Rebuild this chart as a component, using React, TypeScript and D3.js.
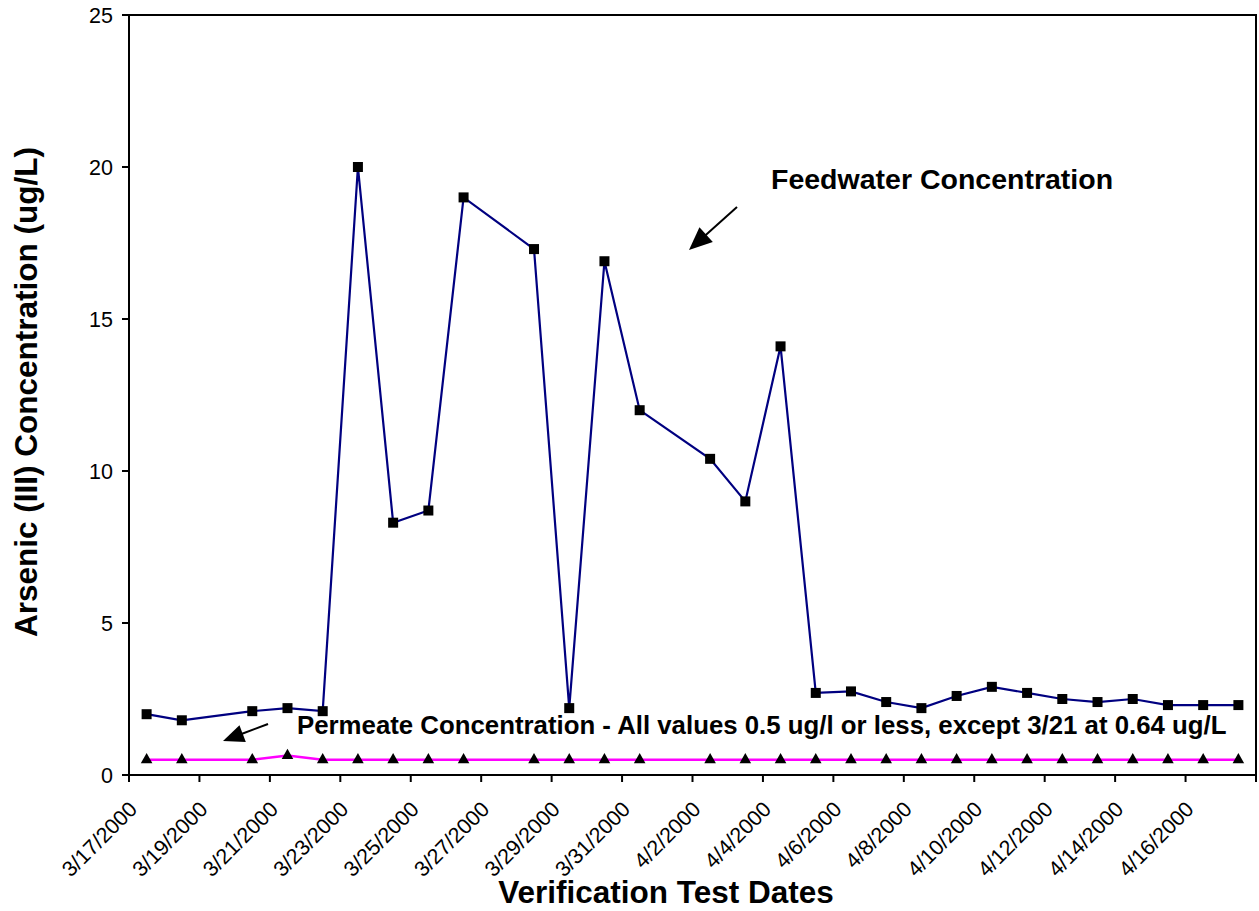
import React, { useEffect, useRef } from "react";
import * as d3 from "d3";

// sample dates (UTC) and arsenic(III) readings in ug/L
const sampleDates = [
  "2000-03-17", "2000-03-18", "2000-03-20", "2000-03-21", "2000-03-22",
  "2000-03-23", "2000-03-24", "2000-03-25", "2000-03-26", "2000-03-28",
  "2000-03-29", "2000-03-30", "2000-03-31", "2000-04-02", "2000-04-03",
  "2000-04-04", "2000-04-05", "2000-04-06", "2000-04-07", "2000-04-08",
  "2000-04-09", "2000-04-10", "2000-04-11", "2000-04-12", "2000-04-13",
  "2000-04-14", "2000-04-15", "2000-04-16", "2000-04-17",
];

const feedwater = [
  2.0, 1.8, 2.1, 2.2, 2.1, 20.0, 8.3, 8.7, 19.0, 17.3, 2.2, 16.9, 12.0, 10.4,
  9.0, 14.1, 2.7, 2.75, 2.4, 2.2, 2.6, 2.9, 2.7, 2.5, 2.4, 2.5, 2.3, 2.3, 2.3,
];

const permeate = [
  0.5, 0.5, 0.5, 0.64, 0.5, 0.5, 0.5, 0.5, 0.5, 0.5, 0.5, 0.5, 0.5, 0.5, 0.5,
  0.5, 0.5, 0.5, 0.5, 0.5, 0.5, 0.5, 0.5, 0.5, 0.5, 0.5, 0.5, 0.5, 0.5,
];

const yTicks = [0, 5, 10, 15, 20, 25];
const axisStart = "2000-03-17";
const axisEnd = "2000-04-18";

const FONT = "Arial, 'Liberation Sans', Helvetica, sans-serif";

const App: React.FC = () => {
  const svgRef = useRef<SVGSVGElement>(null);
  const width = 1259;
  const height = 911;

  useEffect(() => {
    if (!svgRef.current) return;
    const svg = d3.select(svgRef.current);
    svg.selectAll("*").remove();

    const left = 129;
    const right = 1256;
    const top = 15;
    const bottom = 775;

    const parse = d3.utcParse("%Y-%m-%d");
    const x = d3
      .scaleUtc()
      .domain([parse(axisStart)!, parse(axisEnd)!])
      .range([left, right]);
    const y = d3.scaleLinear().domain([0, 25]).range([bottom, top]);

    // points sit in the middle of their day slot
    const px = (s: string) => x(d3.utcHour.offset(parse(s)!, 12));

    // plot frame (top + right)
    svg
      .append("path")
      .attr("d", `M${left},${top}H${right}V${bottom + 7}`)
      .attr("fill", "none")
      .attr("stroke", "#000")
      .attr("stroke-width", 2);

    // y axis
    const yAxis = svg.append("g").attr("transform", `translate(${left},0)`);
    yAxis
      .append("line")
      .attr("x1", 0)
      .attr("x2", 0)
      .attr("y1", top)
      .attr("y2", bottom + 7)
      .attr("stroke", "#000")
      .attr("stroke-width", 2);
    yTicks.forEach((t) => {
      yAxis
        .append("line")
        .attr("x1", -7)
        .attr("x2", 0)
        .attr("y1", y(t))
        .attr("y2", y(t))
        .attr("stroke", "#000")
        .attr("stroke-width", 2);
      yAxis
        .append("text")
        .attr("x", -16)
        .attr("y", y(t))
        .attr("dy", "0.36em")
        .attr("text-anchor", "end")
        .style("font-family", FONT)
        .style("font-size", "21.5px")
        .text(t);
    });

    // x axis: a tick every 2 days, label on all but the last
    const xTicks = d3.utcDay.range(
      parse(axisStart)!,
      d3.utcDay.offset(parse(axisEnd)!, 1),
      2
    );
    const fmt = (d: Date) =>
      `${d.getUTCMonth() + 1}/${d.getUTCDate()}/${d.getUTCFullYear()}`;
    const xAxis = svg.append("g");
    xAxis
      .append("line")
      .attr("x1", left - 7)
      .attr("x2", right)
      .attr("y1", bottom)
      .attr("y2", bottom)
      .attr("stroke", "#000")
      .attr("stroke-width", 2);
    xTicks.forEach((d, i) => {
      const tx = x(d);
      xAxis
        .append("line")
        .attr("x1", tx)
        .attr("x2", tx)
        .attr("y1", bottom)
        .attr("y2", bottom + 7)
        .attr("stroke", "#000")
        .attr("stroke-width", 2);
      if (i < xTicks.length - 1) {
        xAxis
          .append("text")
          .attr("transform", `translate(${tx + 4},${bottom + 30}) rotate(-45)`)
          .attr("dy", "0.36em")
          .attr("text-anchor", "end")
          .style("font-family", FONT)
          .style("font-size", "21.5px")
          .text(fmt(d));
      }
    });

    // series lines
    const line = d3
      .line<number>()
      .x((_, i) => px(sampleDates[i]))
      .y((v) => y(v));

    svg
      .append("path")
      .attr("d", line(permeate))
      .attr("fill", "none")
      .attr("stroke", "#ff00ff")
      .attr("stroke-width", 2.5);

    svg
      .append("path")
      .attr("d", line(feedwater))
      .attr("fill", "none")
      .attr("stroke", "#000080")
      .attr("stroke-width", 2.2);

    // markers
    const sq = 10;
    svg
      .append("g")
      .selectAll("rect")
      .data(feedwater)
      .enter()
      .append("rect")
      .attr("x", (_, i) => px(sampleDates[i]) - sq / 2)
      .attr("y", (v) => y(v) - sq / 2)
      .attr("width", sq)
      .attr("height", sq)
      .attr("fill", "#000");

    const tri = d3.symbol().type(d3.symbolTriangle).size(58);
    svg
      .append("g")
      .selectAll("path")
      .data(permeate)
      .enter()
      .append("path")
      .attr("d", tri)
      .attr("transform", (v, i) => `translate(${px(sampleDates[i])},${y(v)})`)
      .attr("fill", "#000");

    // annotations
    const arrow = (
      x1: number,
      y1: number,
      x2: number,
      y2: number,
      hl: number,
      hw: number
    ) => {
      const dx = x2 - x1;
      const dy = y2 - y1;
      const len = Math.hypot(dx, dy);
      const ux = dx / len;
      const uy = dy / len;
      const bx = x2 - ux * hl;
      const by = y2 - uy * hl;
      svg
        .append("line")
        .attr("x1", x1)
        .attr("y1", y1)
        .attr("x2", bx + ux * 2)
        .attr("y2", by + uy * 2)
        .attr("stroke", "#000")
        .attr("stroke-width", 2);
      svg
        .append("path")
        .attr(
          "d",
          `M${x2},${y2}L${bx - uy * hw},${by + ux * hw}L${bx + uy * hw},${by - ux * hw}Z`
        )
        .attr("fill", "#000");
    };

    svg
      .append("text")
      .attr("x", 771)
      .attr("y", 189)
      .style("font-family", FONT)
      .style("font-size", "28.5px")
      .style("font-weight", "bold")
      .text("Feedwater Concentration");
    arrow(737, 207, 689, 250, 23, 10);

    svg
      .append("text")
      .attr("x", 297)
      .attr("y", 734)
      .style("font-family", FONT)
      .style("font-size", "25.8px")
      .style("font-weight", "bold")
      .text(
        "Permeate Concentration - All values 0.5 ug/l or less, except 3/21 at 0.64 ug/L"
      );
    arrow(268, 724, 223, 741, 21, 9);

    // axis titles
    svg
      .append("text")
      .attr("x", 666)
      .attr("y", 903)
      .attr("text-anchor", "middle")
      .style("font-family", FONT)
      .style("font-size", "31.5px")
      .style("font-weight", "bold")
      .text("Verification Test Dates");

    svg
      .append("text")
      .attr("transform", `translate(37,392) rotate(-90)`)
      .attr("text-anchor", "middle")
      .style("font-family", FONT)
      .style("font-size", "31.5px")
      .style("font-weight", "bold")
      .text("Arsenic (III) Concentration (ug/L)");
  }, []);

  return (
    <svg
      ref={svgRef}
      width={width}
      height={height}
      viewBox={`0 0 ${width} ${height}`}
      style={{ position: "absolute", left: 0, top: 0, background: "#fff" }}
    />
  );
};

export default App;
